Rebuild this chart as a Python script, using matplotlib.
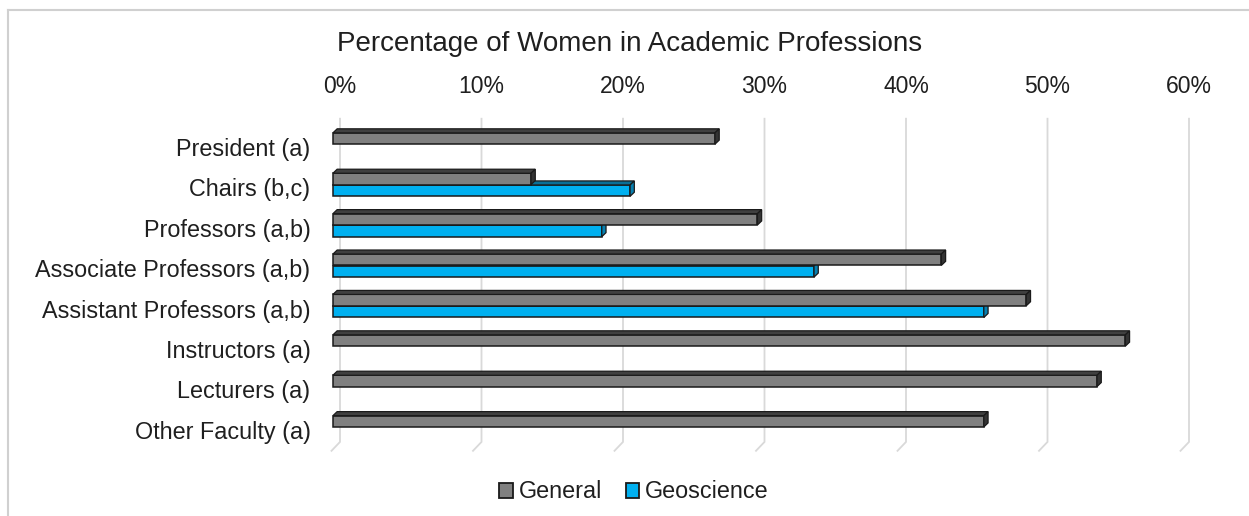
import numpy as np
import matplotlib.pyplot as plt
from matplotlib.patches import Polygon
from matplotlib.lines import Line2D

plt.rcParams["font.family"] = ["Liberation Sans", "DejaVu Sans"]

CATEGORIES = [
    "President (a)",
    "Chairs (b,c)",
    "Professors (a,b)",
    "Associate Professors (a,b)",
    "Assistant Professors (a,b)",
    "Instructors (a)",
    "Lecturers (a)",
    "Other Faculty (a)",
]
GENERAL = [27, 14, 30, 43, 49, 56, 54, 46]
GEOSCIENCE = [None, 21, 19, 34, 46, None, None, None]
TICKS = [0, 10, 20, 30, 40, 50, 60]
TICK_LABELS = ["0%", "10%", "20%", "30%", "40%", "50%", "60%"]

GRAY = ("#808080", "#404040", "#333333")
BLUE = ("#00b0f0", "#0a6f96", "#0880b0")

# fake 3D: front face shifted left/down from the back wall
SHIFT_X = -0.5
DEPTH_X = 0.3
DEPTH_Y = 0.1
BAR_H = 0.28


def draw_bar(ax, y_center, value, colors):
    front, top, side = colors
    x0 = SHIFT_X
    ax.barh(y_center, value, left=x0, height=BAR_H, color=front,
            edgecolor="#1a1a1a", linewidth=1.1, zorder=3)
    yt = y_center - BAR_H / 2
    yb = y_center + BAR_H / 2
    x1 = x0 + value
    top_face = Polygon([(x0, yt), (x1, yt), (x1 + DEPTH_X, yt - DEPTH_Y),
                        (x0 + DEPTH_X, yt - DEPTH_Y)], closed=True,
                       facecolor=top, edgecolor="#1a1a1a", linewidth=0.9, zorder=3)
    side_face = Polygon([(x1, yt), (x1, yb), (x1 + DEPTH_X, yb - DEPTH_Y),
                         (x1 + DEPTH_X, yt - DEPTH_Y)], closed=True,
                        facecolor=side, edgecolor="#1a1a1a", linewidth=0.9, zorder=3)
    ax.add_patch(top_face)
    ax.add_patch(side_face)


fig = plt.figure(figsize=(12.49, 5.16), dpi=100)

# outer frame (top and left edges visible)
fig.add_artist(Line2D([8 / 1249, 1], [1 - 10 / 516, 1 - 10 / 516],
                      color="#d0d0d0", linewidth=1.5))
fig.add_artist(Line2D([8 / 1249, 8 / 1249], [0, 1 - 10 / 516],
                      color="#d0d0d0", linewidth=1.5))

px_per_unit = 141.5 / 10
x_left = -1.0
x_right = 62.0
ax_left_px = 340 + x_left * px_per_unit
ax_right_px = 340 + x_right * px_per_unit

row_px = 40.4
y_top = -1.0
y_bottom = 7.6
ax_top_px = 147 + y_top * row_px
ax_bot_px = 147 + y_bottom * row_px

ax = fig.add_axes([ax_left_px / 1249, 1 - ax_bot_px / 516,
                   (ax_right_px - ax_left_px) / 1249, (ax_bot_px - ax_top_px) / 516])
ax.set_xlim(x_left, x_right)
ax.set_ylim(y_bottom, y_top)
for s in ax.spines.values():
    s.set_visible(False)

# gridlines with a little floor corner at the bottom
grid_top = -0.7
grid_bot = 7.3
for t in TICKS:
    ax.plot([t, t, t + SHIFT_X - 0.1], [grid_top, grid_bot, grid_bot + 0.22],
            color="#d9d9d9", linewidth=1.3, zorder=1, solid_joinstyle="miter")

y = np.arange(len(CATEGORIES))
for i, cat in enumerate(CATEGORIES):
    if GEOSCIENCE[i] is not None:
        draw_bar(ax, y[i] + 0.08, GEOSCIENCE[i], BLUE)
    draw_bar(ax, y[i] - 0.21, GENERAL[i], GRAY)

ax.set_yticks(y)
ax.set_yticklabels(CATEGORIES, fontsize=16.8, color="#1f1f1f")
ax.tick_params(axis="y", length=0, pad=11)

ax.set_xticks(TICKS)
ax.set_xticklabels(TICK_LABELS, fontsize=16.5, color="#1f1f1f")
ax.xaxis.tick_top()
ax.tick_params(axis="x", length=0, pad=6)

fig.text(630 / 1249, 1 - 44 / 516, "Percentage of Women in Academic Professions",
         ha="center", va="center", fontsize=20, color="#1f1f1f")

handles = [
    Polygon([[0, 0]], facecolor=GRAY[0], edgecolor="#1a1a1a", linewidth=1.3),
    Polygon([[0, 0]], facecolor=BLUE[0], edgecolor="#1a1a1a", linewidth=1.3),
]
fig.legend(handles, ["General", "Geoscience"], loc="center",
           bbox_to_anchor=(634 / 1249, 1 - 492 / 516), ncol=2, frameon=False,
           fontsize=16.8, handlelength=0.58, handleheight=0.58, handletextpad=0.25,
           columnspacing=1.0, labelcolor="#1f1f1f")

fig.savefig("out.png", dpi=100)
